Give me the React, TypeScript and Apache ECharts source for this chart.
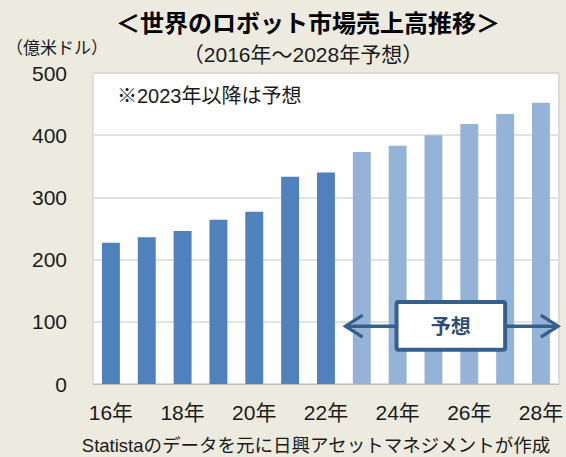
import React, { useEffect, useRef } from "react";
import * as echarts from "echarts";

const categories = ["16年", "17年", "18年", "19年", "20年", "21年", "22年", "23年", "24年", "25年", "26年", "27年", "28年"];
const values = [227, 236, 246, 264, 277, 333, 340, 373, 383, 400, 418, 434, 452];
const isForecast = [false, false, false, false, false, false, false, true, true, true, true, true, true];
const yTicks = [0, 100, 200, 300, 400, 500];

const FONT = "'Liberation Sans', Arial, 'Noto Sans CJK JP', sans-serif";
const DARK = "#4F81BD";
const LIGHT = "#95B3D7";
const ARROW = "#34608F";

export default function App() {
  const ref = useRef<HTMLDivElement>(null);
  useEffect(() => {
    if (!ref.current) return;
    const chart = echarts.init(ref.current, null, { renderer: "svg" });
    const option: any = {
      animation: false,
      backgroundColor: "#EDEBE0",
      textStyle: { fontFamily: FONT },
      title: [
        {
          text: "＜世界のロボット市場売上高推移＞",
          left: 303,
          top: 6,
          textAlign: "center",
          textStyle: { fontSize: 24, fontWeight: "bold", color: "#000", fontFamily: FONT },
        },
        {
          text: "（2016年～2028年予想）",
          left: 298,
          top: 39,
          textAlign: "center",
          textStyle: { fontSize: 21, fontWeight: "normal", color: "#1a1a1a", fontFamily: FONT },
        },
        {
          text: "（億米ドル）",
          left: 1,
          top: 35,
          textStyle: { fontSize: 17, fontWeight: "normal", color: "#1a1a1a", fontFamily: FONT },
        },
        {
          text: "Statistaのデータを元に日興アセットマネジメントが作成",
          left: 311,
          top: 431,
          textAlign: "center",
          textStyle: { fontSize: 18.5, fontWeight: "normal", color: "#1a1a1a", fontFamily: FONT },
        },
      ],
      grid: {
        left: 93,
        right: 3,
        top: 73,
        bottom: 73,
        show: true,
        backgroundColor: "#FFFFFF",
        borderColor: "#C8C8C8",
        borderWidth: 1,
      },
      xAxis: {
        type: "category",
        data: categories,
        axisLine: { show: true, lineStyle: { color: "#BFBFBF", width: 1 } },
        axisTick: { show: false },
        axisLabel: {
          interval: 1,
          margin: 18,
          fontSize: 21,
          color: "#1a1a1a",
          fontFamily: FONT,
        },
      },
      yAxis: {
        type: "value",
        min: yTicks[0],
        max: yTicks[yTicks.length - 1],
        interval: 100,
        axisLine: { show: false },
        axisTick: { show: false },
        splitLine: { show: true, lineStyle: { color: "#D9D9D9", width: 1.5 } },
        axisLabel: { margin: 26, fontSize: 21, color: "#1a1a1a", fontFamily: FONT },
      },
      series: [
        {
          type: "bar",
          barCategoryGap: "50%",
          data: values.map((v, i) => ({
            value: v,
            itemStyle: { color: isForecast[i] ? LIGHT : DARK },
          })),
        },
      ],
    };
    chart.setOption(option);

    // annotation positions derived from the axes
    const px = (idx: number) => {
      const a = chart.convertToPixel({ xAxisIndex: 0 }, 0) as number;
      const b = chart.convertToPixel({ xAxisIndex: 0 }, 1) as number;
      return a + (b - a) * idx;
    };
    const py = (v: number) => chart.convertToPixel({ yAxisIndex: 0 }, v) as number;

    const lineY = py(93);
    const xL = px(6.55);
    const xR = px(12.47);
    const boxL = px(7.97);
    const boxR = px(11.0);
    const boxT = py(132);
    const boxB = py(55);
    const Z = 100;

    chart.setOption({
      graphic: [
        {
          type: "text",
          left: 117,
          top: 86,
          z: Z,
          style: { text: "※2023年以降は予想", fontSize: 20, fill: "#1a1a1a", fontFamily: FONT },
        },
        {
          type: "line",
          z: Z,
          shape: { x1: xL + 1, y1: lineY, x2: boxL, y2: lineY },
          style: { stroke: ARROW, lineWidth: 3.5 },
        },
        {
          type: "line",
          z: Z,
          shape: { x1: boxR, y1: lineY, x2: xR - 1, y2: lineY },
          style: { stroke: ARROW, lineWidth: 3.5 },
        },
        {
          type: "polyline",
          z: Z,
          shape: { points: [[xL + 17, lineY - 11], [xL, lineY], [xL + 17, lineY + 11]] },
          style: { stroke: ARROW, lineWidth: 3.5, fill: null },
        },
        {
          type: "polyline",
          z: Z,
          shape: { points: [[xR - 17, lineY - 11], [xR, lineY], [xR - 17, lineY + 11]] },
          style: { stroke: ARROW, lineWidth: 3.5, fill: null },
        },
        {
          type: "rect",
          z: Z,
          shape: { x: boxL, y: boxT, width: boxR - boxL, height: boxB - boxT, r: 2 },
          style: { fill: "#FFFFFF", stroke: ARROW, lineWidth: 4 },
        },
        {
          type: "text",
          z: Z + 1,
          x: (boxL + boxR) / 2,
          y: (boxT + boxB) / 2 + 1,
          style: {
            text: "予想",
            fontSize: 20,
            fontWeight: "bold",
            fill: "#2F4F75",
            fontFamily: FONT,
            align: "center",
            verticalAlign: "middle",
          },
        },
      ],
    });

    return () => chart.dispose();
  }, []);
  return <div ref={ref} style={{ width: 566, height: 457, position: "absolute", left: 0, top: 0 }} />;
}
